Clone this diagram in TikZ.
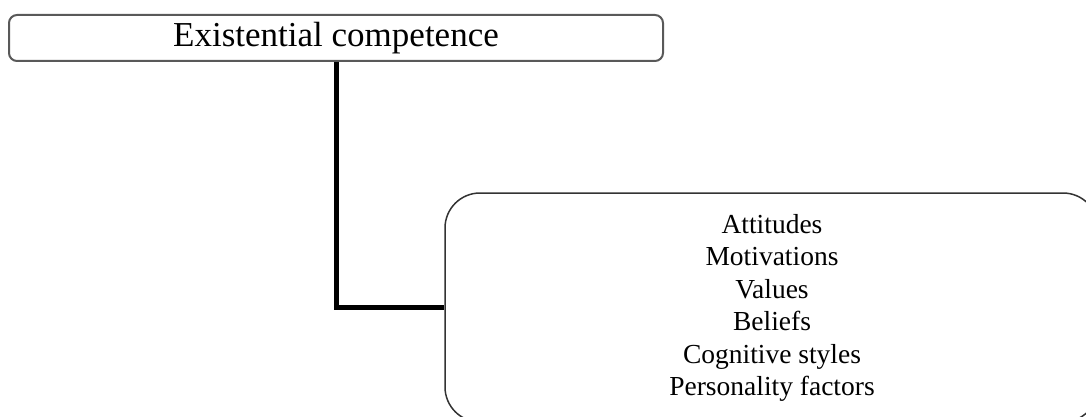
\documentclass[tikz,border=0pt]{standalone}
\usepackage{fontspec}
\setmainfont{Liberation Serif}
\begin{document}
\begin{tikzpicture}[x=1pt,y=-1pt,
  titlebox/.style={draw=black!65, line width=2pt, rounded corners=8pt, inner sep=0pt,
    minimum width=654pt, minimum height=46pt, font=\fontsize{35}{42}\selectfont},
  listbox/.style={draw=black!80, line width=1.5pt, rounded corners=35pt, inner sep=0pt,
    minimum width=653pt, minimum height=229pt},
  listtext/.style={align=center, inner sep=0pt, font=\fontsize{27.5}{32.5}\selectfont},
  link/.style={line width=5pt, line join=miter}]
\useasboundingbox (0,0) rectangle (1086,417);
\clip (0,0) rectangle (1086,417);
\node[titlebox] (top) at (336,38) {Existential competence};
\node[listbox] (bot) at (771.5,307.5) {};
\node[listtext] (items) at (772,308) {Attitudes\\Motivations\\Values\\Beliefs\\Cognitive styles\\Personality factors};
\draw[link] (top.south) |- (bot.west);
\end{tikzpicture}
\end{document}
